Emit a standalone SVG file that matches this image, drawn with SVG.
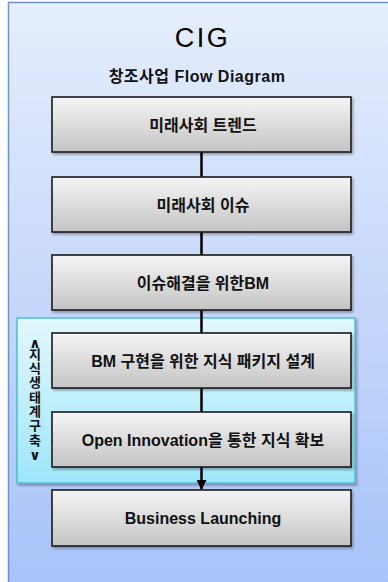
<svg xmlns="http://www.w3.org/2000/svg" width="388" height="582" viewBox="0 0 388 582">
<defs>
<linearGradient id="bg" x1="0" y1="0" x2="0" y2="1">
<stop offset="0" stop-color="#e6eefd"/>
<stop offset="0.5" stop-color="#c6d7fa"/>
<stop offset="1" stop-color="#a6c2f9"/>
</linearGradient>
<linearGradient id="cy" x1="0" y1="0" x2="0" y2="1">
<stop offset="0" stop-color="#e2f8fe"/>
<stop offset="1" stop-color="#9ee6fa"/>
</linearGradient>
<linearGradient id="box" x1="0" y1="0" x2="0" y2="1">
<stop offset="0" stop-color="#f5f5f5"/>
<stop offset="1" stop-color="#c4c4c4"/>
</linearGradient>
<filter id="sh" x="-5%" y="-10%" width="115%" height="130%">
<feDropShadow dx="1.5" dy="2" stdDeviation="1.2" flood-color="#000" flood-opacity="0.3"/>
</filter>
<marker id="arr" viewBox="0 0 10 10" refX="9" refY="5" markerWidth="4" markerHeight="4" orient="auto" markerUnits="strokeWidth">
<path d="M0,0 L10,5 L0,10 Z" fill="#000"/>
</marker>
<style>
.bx{fill:url(#box);stroke:#1a1a1a;stroke-width:1.6;filter:url(#sh)}
.lb{font-family:"Liberation Sans","Noto Sans CJK KR",sans-serif;font-weight:bold;font-size:16px;fill:#111;text-anchor:middle}
.vt{font-family:"Noto Sans CJK KR",sans-serif;font-weight:bold;font-size:13px;fill:#111;text-anchor:middle}
.ch{font-family:"DejaVu Sans",sans-serif;font-weight:bold;font-size:14px;fill:#111;text-anchor:middle}
.cn{stroke:#000;stroke-width:2.5;fill:none}
</style>
</defs>
<rect x="8.5" y="2.5" width="400" height="600" fill="url(#bg)" stroke="#6f94c4" stroke-width="1.5"/>
<text x="202.5" y="47" font-family="Liberation Sans,Arial,sans-serif" font-size="27" letter-spacing="2.5" text-anchor="middle" fill="#000">CIG</text>
<text x="197" y="82" class="lb" font-size="16.5" letter-spacing="0.5" fill="#111">창조사업 Flow Diagram</text>
<g id="panel">
<rect x="17" y="318" width="338" height="165" fill="url(#cy)" stroke="#48c0d8" stroke-width="1.5" filter="url(#sh)"/>
<text class="ch" x="35" y="348">∧</text>
<text class="vt" x="35" y="359">지</text>
<text class="vt" x="35" y="373">식</text>
<text class="vt" x="35" y="387">생</text>
<text class="vt" x="35" y="402">태</text>
<text class="vt" x="35" y="416">계</text>
<text class="vt" x="35" y="430">구</text>
<text class="vt" x="35" y="445">축</text>
<text class="ch" x="35" y="460">∨</text>
</g>
<g id="connectors">
<line class="cn" x1="201.5" y1="152" x2="201.5" y2="177"/>
<line class="cn" x1="201.5" y1="232" x2="201.5" y2="255"/>
<line class="cn" x1="201.5" y1="310" x2="201.5" y2="333"/>
<line class="cn" x1="201.5" y1="388" x2="201.5" y2="412"/>
<line class="cn" x1="201.5" y1="467" x2="201.5" y2="489" marker-end="url(#arr)"/>
</g>
<g id="n1"><rect class="bx" x="52" y="97" width="299" height="55"/><text class="lb" x="203" y="131">미래사회 트렌드</text></g>
<g id="n2"><rect class="bx" x="52" y="177" width="299" height="55"/><text class="lb" x="203" y="211">미래사회 이슈</text></g>
<g id="n3"><rect class="bx" x="52" y="255" width="299" height="55"/><text class="lb" x="203" y="289">이슈해결을 위한BM</text></g>
<g id="n4"><rect class="bx" x="52" y="333" width="299" height="55"/><text class="lb" x="203" y="367">BM 구현을 위한 지식 패키지 설계</text></g>
<g id="n5"><rect class="bx" x="52" y="412" width="299" height="55"/><text class="lb" x="203" y="446">Open Innovation을 통한 지식 확보</text></g>
<g id="n6"><rect class="bx" x="52" y="490" width="299" height="56"/><text class="lb" x="203" y="524">Business Launching</text></g>
</svg>
